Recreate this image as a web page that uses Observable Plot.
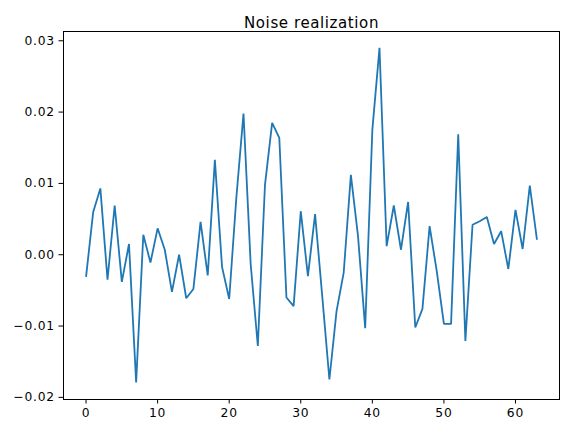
<!DOCTYPE html>
<html><head>
<meta charset="utf-8">
<script src="https://cdn.jsdelivr.net/npm/d3@7"></script>
<script src="https://cdn.jsdelivr.net/npm/@observablehq/plot@0.6"></script>
<style>body{margin:0;background:#fff}</style>
</head><body><div id="chart"></div>
<script>
const title = "Noise realization";
const noise = [
  -0.0031, 0.0060, 0.0093, -0.0035, 0.0069, -0.0038, 0.0015, -0.0179,
  0.0028, -0.0011, 0.0037, 0.0007, -0.0052, 0.0000, -0.0061, -0.0048,
  0.0046, -0.0029, 0.0133, -0.0017, -0.0062, 0.0080, 0.0198, -0.0013,
  -0.0128, 0.0098, 0.0185, 0.0164, -0.0060, -0.0072, 0.0061, -0.0030,
  0.0057, -0.0058, -0.0175, -0.0079, -0.0025, 0.0112, 0.0026, -0.0103,
  0.0175, 0.0290, 0.0012, 0.0069, 0.0007, 0.0074, -0.0102, -0.0076,
  0.0040, -0.0023, -0.0097, -0.0097, 0.0169, -0.0121, 0.0042, 0.0047,
  0.0053, 0.0015, 0.0033, -0.0020, 0.0063, 0.0008, 0.0097, 0.0021
];
const xTicks = [0, 10, 20, 30, 40, 50, 60];
const yTicks = [-0.02, -0.01, 0.00, 0.01, 0.02, 0.03];

const data = noise.map((v, i) => ({i, v}));
const font = "DejaVu Sans, sans-serif";

const chart = Plot.plot({
  width: 568,
  height: 434,
  marginLeft: 63,
  marginRight: 9,
  marginTop: 31,
  marginBottom: 35,
  style: {fontFamily: font, fontSize: "12.3px", color: "black", background: "white"},
  x: {domain: [-3.15, 66.15], ticks: xTicks, tickFormat: d3.format("d"), label: null},
  y: {domain: [-0.0203, 0.0313], ticks: yTicks, tickFormat: d3.format(".2f"), label: null},
  marks: [
    Plot.axisX({ticks: xTicks, tickSize: 4.5, tickPadding: 4, tickFormat: d3.format("d"), label: null, stroke: "black", strokeWidth: 1, strokeOpacity: 1}),
    Plot.axisY({ticks: yTicks, tickSize: 4.5, tickPadding: 4, tickFormat: d3.format(".2f"), label: null, stroke: "black", strokeWidth: 1, strokeOpacity: 1}),
    Plot.line(data, {x: "i", y: "v", stroke: "#1f77b4", strokeWidth: 1.8, strokeLinejoin: "miter", strokeLinecap: "butt"}),
    Plot.frame({stroke: "black", strokeWidth: 1}),
    Plot.text([title], {frameAnchor: "top", dy: -14, fontSize: 15, fill: "black", fontFamily: font})
  ]
});
d3.select(chart).selectAll("g[aria-label$='tick label'] text").attr("letter-spacing", "0.8px");
d3.select(chart).selectAll("g[aria-label='text'] text").attr("letter-spacing", "0.6px");
document.getElementById("chart").append(chart);
</script>
</body></html>
